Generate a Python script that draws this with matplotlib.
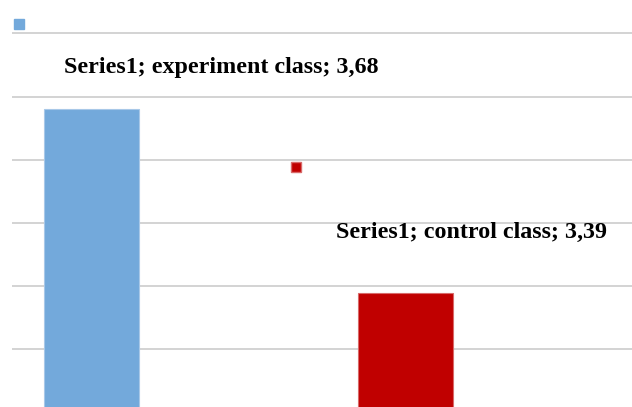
import matplotlib
matplotlib.use("Agg")
import matplotlib.pyplot as plt
from matplotlib.lines import Line2D

# data
categories = ["experiment class", "control class"]
values = [3.68, 3.39]
series_name = "Series1"
bar_colors = ["#73A9DB", "#C00000"]
edge_colors = ["#A8C8E8", "#D86A6A"]

fig = plt.figure(figsize=(6.32, 4.07), dpi=100)
ax = fig.add_axes([12 / 632, 0, 620 / 632, 1])

x = range(len(categories))
ax.bar(x, values, width=0.302, color=bar_colors, edgecolor=edge_colors,
       linewidth=0.8, zorder=2)

ax.set_xlim(-0.253, 1.719)
ax.set_ylim(3.209, 3.853)
ax.set_yticks([3.3, 3.4, 3.5, 3.6, 3.7, 3.8])
ax.yaxis.grid(True, color="#CCCCCC", linewidth=1.2, zorder=0)
ax.set_axisbelow(True)
ax.tick_params(left=False, bottom=False, labelleft=False, labelbottom=False)
for s in ax.spines.values():
    s.set_visible(False)

# data labels
labels = ["%s; %s; %s" % (series_name, c, ("%.2f" % v).replace(".", ","))
          for c, v in zip(categories, values)]
font = dict(family="Liberation Serif", weight="bold", fontsize=17.3, color="black")
fig.text(64 / 632, 1 - 68 / 407, labels[0], ha="left", va="center", **font)
fig.text(472 / 632, 1 - 232 / 407, labels[1], ha="center", va="center", **font)

# small legend squares
fig.add_artist(Line2D([18.5 / 632], [1 - 24 / 407], marker="s", markersize=7,
                      color=bar_colors[0], linestyle="none",
                      transform=fig.transFigure))
fig.add_artist(Line2D([296 / 632], [1 - 166.5 / 407], marker="s", markersize=7.5,
                      color=bar_colors[1], markeredgecolor=edge_colors[1],
                      linestyle="none", transform=fig.transFigure))

fig.savefig("out.png", dpi=100)
